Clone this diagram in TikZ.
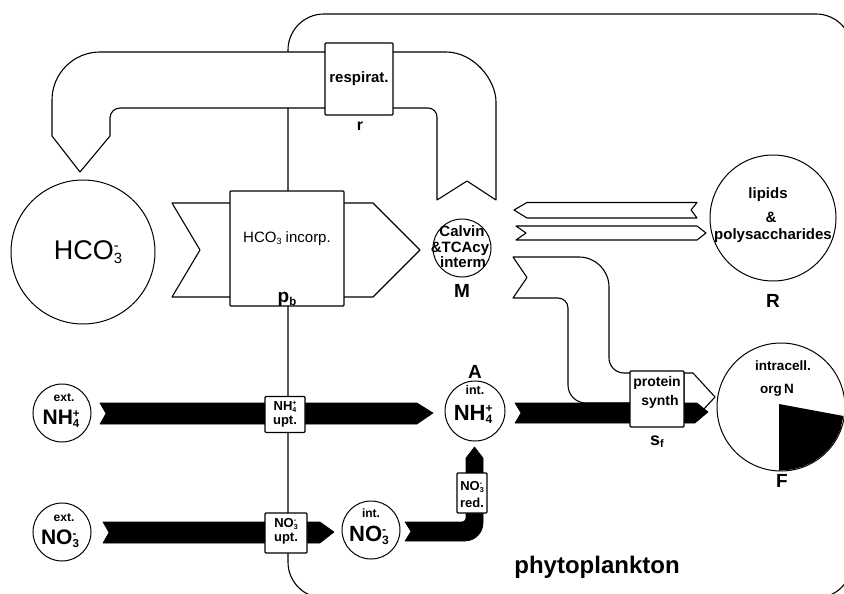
\documentclass[tikz,border=0pt]{standalone}
\usepackage{fontspec}
\setmainfont{Liberation Sans}
\newcommand\ionss[3]{#1\rlap{\raisebox{0.62ex}{\scalebox{0.55}{#3}}}\raisebox{-0.32ex}{\scalebox{0.55}{#2}}}
\newcommand\subsc[2]{#1\raisebox{-0.3ex}{\scalebox{0.6}{#2}}}
\newcommand\fs[1]{\fontsize{#1}{#1}\selectfont}
\begin{document}
\begin{tikzpicture}[x=1pt,y=-1pt,
  ln/.style={line width=1.1pt, line join=round},
  circ/.style={circle, draw, line width=1pt, fill=white, inner sep=0pt},
  procbox/.style={draw, line width=1.1pt, fill=white, inner sep=0pt, rounded corners=1pt},
  txt/.style={inner sep=0pt, anchor=base, align=center},
  blk/.style={fill=black, draw=black, line width=0.6pt, line join=round}]
\useasboundingbox (0,0) rectangle (844,594);
\clip (0,0) rectangle (844,594);

% cell membrane
\draw[ln, rounded corners=36pt] (288,14) rectangle (852,598);

% respiration arrow
\draw[ln, fill=white] (80,172) -- (52,136) -- (52,100) .. controls (52,73.5) and (73.5,52) .. (100,52)
  -- (446,52) .. controls (473.6,52) and (496,79.6) .. (496,102) -- (496,200) -- (467,181) -- (437,200)
  -- (437,117) .. controls (437,112) and (433,108) .. (428,108) -- (120,108)
  .. controls (114.5,108) and (110,112.5) .. (110,118) -- (110,136) -- cycle;
\node[procbox, minimum width=68pt, minimum height=72pt] (resp) at (359,79) {};
\node[txt, font=\bfseries\fs{15}] (resptxt) at (359,82) {respirat.};
\node[txt, font=\bfseries\fs{16}] (rlab) at (360,130) {r};

% HCO3 incorporation arrow
\draw[ln, fill=white] (172,203) -- (373,203) -- (420,250) -- (373,297) -- (172,297) -- (200,250) -- cycle;
\node[procbox, minimum width=114pt, minimum height=115pt] (pb) at (287,248.5) {};
\node[txt, font=\fs{15}] (pbtxt) at (287,242) {\subsc{HCO}{3} incorp.};
\node[txt, font=\bfseries\fs{19}] (pblab) at (287,302) {\subsc{p}{b}};

% thin arrows M <-> R
\draw[ln, fill=white] (514,210) -- (527,202.5) -- (697,202.5) -- (691,210) -- (697,218) -- (527,218) -- cycle;
\draw[ln, fill=white] (516,226) -- (697,226) -- (706,233) -- (697,240) -- (516,240) -- (526,233) -- cycle;

% curved white arrow M -> protein synthesis
\draw[ln, fill=white] (513,257) -- (579,257) .. controls (595.6,257) and (609,270.4) .. (609,287)
  -- (609,358) .. controls (609,366.3) and (615.7,373) .. (624,373) -- (632,373) -- (632,403)
  -- (586,403) .. controls (576,403) and (568,395) .. (568,385) -- (568,308)
  .. controls (568,302.5) and (563.5,298) .. (558,298) -- (513,298) -- (527,277.5) -- cycle;

% white head after protein synthesis
\draw[ln, fill=white] (684,373) -- (693,373) -- (715,397) -- (703,410) -- (684,410) -- cycle;

% black nitrogen arrows
\draw[blk] (100,403) -- (417,403) -- (433,413) -- (417,424) -- (100,424) -- (106,413.5) -- cycle;
\draw[blk] (515,403) -- (640,403) -- (640,423) -- (515,423) -- (521,413) -- cycle;
\draw[blk] (680,403) -- (697,403) -- (708,412) -- (695,423) -- (680,423) -- cycle;
\draw[blk] (103,522) -- (320,522) -- (334,532) -- (320,543) -- (103,543) -- (109,532.5) -- cycle;
\draw[blk] (405,522) -- (462,522) .. controls (464.2,522) and (466,520.2) .. (466,518) -- (466,458)
  -- (474.5,447) -- (483,458) -- (483,523) .. controls (483,532.9) and (474.9,541) .. (465,541)
  -- (405,541) -- (411,531.5) -- cycle;

% process boxes
\node[procbox, minimum width=40pt, minimum height=36pt] (nh4upt) at (285,414.5) {};
\node[txt, font=\bfseries\fs{13}] (nh4upttxt) at (285,410) {\ionss{NH}{4}{+}};
\node[txt, font=\bfseries\fs{13}] (nh4upttxt2) at (285,424) {upt.};
\node[procbox, minimum width=42pt, minimum height=40pt] (no3upt) at (286,533) {};
\node[txt, font=\bfseries\fs{13}] (no3upttxt) at (286,527) {\ionss{NO}{3}{-}};
\node[txt, font=\bfseries\fs{13}] (no3upttxt2) at (286,541) {upt.};
\node[procbox, minimum width=30pt, minimum height=40pt] (no3red) at (472,493) {};
\node[txt, font=\bfseries\fs{13}] (no3redtxt) at (472,490) {\ionss{NO}{3}{-}};
\node[txt, font=\bfseries\fs{13}] (no3redtxt2) at (472,507) {red.};
\node[procbox, minimum width=54pt, minimum height=56pt] (sf) at (657,399) {};
\node[txt, font=\bfseries\fs{14}] (sftxt) at (657,386) {protein};
\node[txt, font=\bfseries\fs{14}] (sftxt2) at (660,405) {synth};
\node[txt, font=\bfseries\fs{18}] (sflab) at (657,445) {\subsc{s}{f}};

% pools
\node[circ, minimum size=144pt] (hco) at (83,252) {};
\node[txt, font=\fs{27}] (hcotxt) at (88,259) {\ionss{HCO}{3}{-}};

\node[circ, minimum size=58pt] (M) at (462,248) {};
\node[txt, font=\bfseries\fs{15}] (Mt1) at (462,236) {Calvin};
\node[txt, font=\bfseries\fs{15}] (Mt2) at (460,252) {\&TCAcy};
\node[txt, font=\bfseries\fs{15}] (Mt3) at (463,267) {interm};
\node[txt, font=\bfseries\fs{19}] (Mlab) at (462,297) {M};

\node[circ, minimum size=126pt] (R) at (773,218) {};
\node[txt, font=\bfseries\fs{15}] (Rt1) at (768,198) {lipids};
\node[txt, font=\bfseries\fs{15}] (Rt2) at (771,222) {\&};
\node[txt, font=\bfseries\fs{15}] (Rt3) at (773,239) {polysaccharides};
\node[txt, font=\bfseries\fs{19}] (Rlab) at (773,307) {R};

\node[circ, minimum size=60pt] (A) at (475,411) {};
\node[txt, font=\bfseries\fs{12.5}] (At1) at (475,394) {int.};
\node[txt, font=\bfseries\fs{22}] (At2) at (473,420) {\ionss{NH}{4}{+}};
\node[txt, font=\bfseries\fs{19}] (Alab) at (475,378) {A};

\node[circ, minimum size=58pt] (exnh) at (62,413) {};
\node[txt, font=\bfseries\fs{12}] (exnht1) at (64,401) {ext.};
\node[txt, font=\bfseries\fs{21}] (exnht2) at (61,424) {\ionss{NH}{4}{+}};

\node[circ, minimum size=58pt] (exno) at (62,532) {};
\node[txt, font=\bfseries\fs{12}] (exnot1) at (64,521) {ext.};
\node[txt, font=\bfseries\fs{21}] (exnot2) at (60,544) {\ionss{NO}{3}{-}};

\node[circ, minimum size=58pt] (inno) at (371,530) {};
\node[txt, font=\bfseries\fs{12}] (innot1) at (371,517) {int.};
\node[txt, font=\bfseries\fs{22}] (innot2) at (369,541) {\ionss{NO}{3}{-}};

% organic N pool
\node[circ, minimum size=128pt] (F) at (781,407) {};
\fill (779,404) -- (843.5,416) -- (840.7,428.7) -- (836,438.75) -- (829.6,447.8) -- (821.8,455.6)
  -- (812.75,462) -- (802.7,466.7) -- (792,469.5) -- (779,470.5) -- cycle;
\node[txt, font=\bfseries\fs{13.5}] (Ft1) at (783,370) {intracell.};
\node[txt, font=\bfseries\fs{13.5}] (Ft2) at (777,393) {org\,N};
\node[txt, font=\bfseries\fs{19}] (Flab) at (782,487) {F};

\node[txt, font=\bfseries\fs{24}] (phyto) at (597,573) {phytoplankton};
\end{tikzpicture}
\end{document}
